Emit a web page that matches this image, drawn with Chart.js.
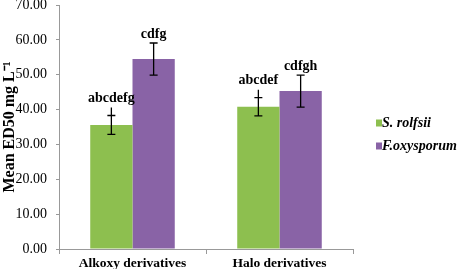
<!DOCTYPE html>
<html>
<head>
<meta charset="utf-8">
<script src="https://cdn.jsdelivr.net/npm/chart.js@4"></script>
<style>
  html, body { margin: 0; padding: 0; background: #fff; }
  #wrap { width: 457px; height: 269px; }
</style>
</head>
<body>
<div id="wrap"><canvas id="edChart" width="457" height="269"></canvas></div>
<script>
// categories and series
const categories = ['Alkoxy derivatives', 'Halo derivatives'];
const rolfsiiValues = [35.6, 40.8];
const oxysporumValues = [54.5, 45.3];
// error bar half-widths
const rolfsiiErrors = [2.7, 2.6];
const oxysporumErrors = [4.6, 4.6];
// letters above bars
const rolfsiiLetters = ['abcdefg', 'abcdef'];
const oxysporumLetters = ['cdfg', 'cdfgh'];
const yTicks = [0, 10, 20, 30, 40, 50, 60, 70];

const serif = '"Liberation Serif", "Times New Roman", serif';

// draws error bars and letter labels for each bar
const errorBarPlugin = {
    id: 'errorBars',
    afterDatasetsDraw(chart) {
        const ctx = chart.ctx;
        const y = chart.scales.y;
        chart.data.datasets.forEach((ds, di) => {
            const meta = chart.getDatasetMeta(di);
            meta.data.forEach((bar, i) => {
                const v = ds.data[i];
                const e = ds.errors[i];
                const yTop = y.getPixelForValue(v + e);
                const yBot = y.getPixelForValue(v - e);
                const x = bar.x;
                ctx.save();
                ctx.strokeStyle = '#000';
                ctx.lineWidth = 1.3;
                ctx.beginPath();
                ctx.moveTo(x, yTop - ds.stemExtra);
                ctx.lineTo(x, yBot);
                ctx.moveTo(x - 4, yTop); ctx.lineTo(x + 4, yTop);
                ctx.moveTo(x - 4, yBot); ctx.lineTo(x + 4, yBot);
                ctx.stroke();
                ctx.fillStyle = '#000';
                ctx.font = 'bold 14px ' + serif;
                ctx.textAlign = 'center';
                ctx.textBaseline = 'bottom';
                ctx.fillText(ds.letters[i], x, yTop - ds.stemExtra - 2);
                ctx.restore();
            });
        });
    }
};

// legend drawn to the right of the plot area
const sideLegend = {
    id: 'sideLegend',
    afterDraw(chart) {
        const ctx = chart.ctx;
        const area = chart.chartArea;
        const x0 = area.right + 23;
        const yMid = (area.top + area.bottom) / 2 + 8;
        const step = 23;
        const sets = chart.data.datasets;
        ctx.save();
        ctx.font = 'italic bold 14px ' + serif;
        ctx.textBaseline = 'middle';
        ctx.textAlign = 'left';
        sets.forEach((ds, i) => {
            const yy = yMid + (i - (sets.length - 1) / 2) * step;
            ctx.fillStyle = ds.backgroundColor;
            ctx.fillRect(x0, yy - 4, 6, 7);
            ctx.fillStyle = '#000';
            ctx.fillText(ds.label, x0 + 6, yy);
        });
        ctx.restore();
    }
};

const ctx = document.getElementById('edChart').getContext('2d');
new Chart(ctx, {
    type: 'bar',
    data: {
        labels: categories,
        datasets: [
            {
                label: 'S. rolfsii',
                data: rolfsiiValues,
                errors: rolfsiiErrors,
                letters: rolfsiiLetters,
                stemExtra: 8,
                backgroundColor: '#8DBF4F'
            },
            {
                label: 'F.oxysporum',
                data: oxysporumValues,
                errors: oxysporumErrors,
                letters: oxysporumLetters,
                stemExtra: 0,
                backgroundColor: '#8963A6'
            }
        ]
    },
    options: {
        responsive: false,
        animation: false,
        layout: { padding: { top: 5, left: 0, right: 104, bottom: 0 } },
        datasets: {
            bar: { barPercentage: 1.0, categoryPercentage: 0.575 }
        },
        scales: {
            x: {
                afterFit: axis => { axis.height = 20; axis.paddingLeft = 0; axis.paddingRight = 0; },
                grid: { display: true, drawOnChartArea: false, tickLength: 5, color: '#999' },
                border: { color: '#999', width: 1 },
                ticks: {
                    color: '#000',
                    font: { family: serif, size: 13.5, weight: 'bold' },
                    padding: 1
                }
            },
            y: {
                min: 0,
                max: 70,
                afterFit: axis => { axis.width = 59; axis.paddingTop = 0; axis.paddingBottom = 0; },
                afterBuildTicks: axis => { axis.ticks = yTicks.map(v => ({ value: v })); },
                grid: { display: true, drawOnChartArea: false, tickLength: 3, color: '#999' },
                border: { color: '#999', width: 1 },
                ticks: {
                    color: '#000',
                    font: { family: serif, size: 14 },
                    padding: 9,
                    callback: v => v.toFixed(2)
                },
                title: {
                    display: true,
                    text: 'Mean ED50 mg L\u207B\u00B9',
                    color: '#000',
                    font: { family: serif, size: 16, weight: 'bold' },
                    padding: { top: 0, bottom: 0 }
                }
            }
        },
        plugins: {
            legend: { display: false },
            tooltip: { enabled: false }
        }
    },
    plugins: [errorBarPlugin, sideLegend]
});
</script>
</body>
</html>
